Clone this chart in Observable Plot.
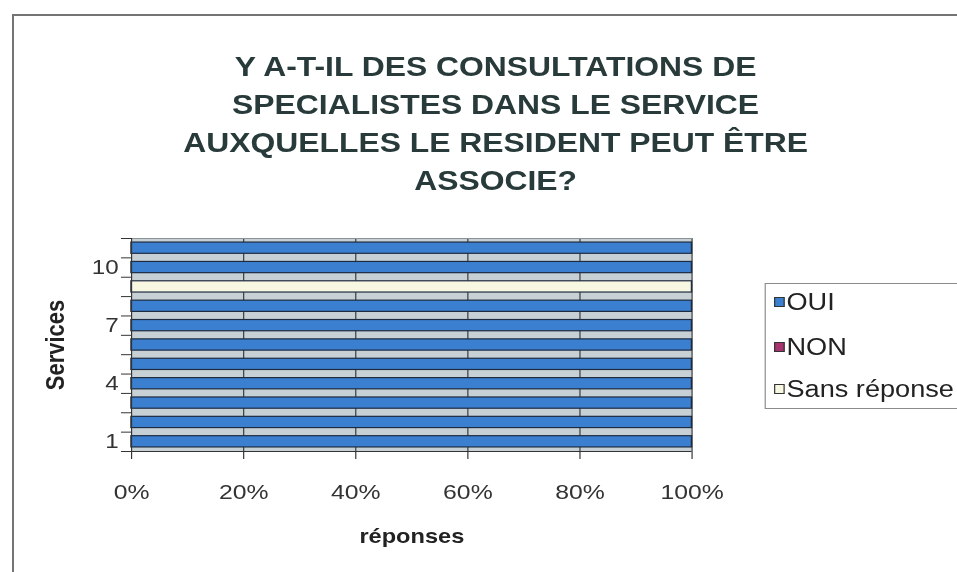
<!DOCTYPE html>
<html><head><meta charset="utf-8">
<script src="https://cdn.jsdelivr.net/npm/d3@7"></script>
<script src="https://cdn.jsdelivr.net/npm/@observablehq/plot@0.6"></script>
<style>
  html, body { margin:0; padding:0; background:#fff; }
  body { width:957px; height:572px; overflow:hidden; position:relative; font-family:"Liberation Sans", Arial, sans-serif; }
  #border { position:absolute; left:12px; top:14px; width:1000px; height:700px; border:2px solid #747474; box-sizing:border-box; }
  #wrap { position:absolute; left:0; top:0; width:811px; height:572px; transform:scaleX(1.18); transform-origin:0 0; }
  #title { position:absolute; left:0; top:48px; width:840px; text-align:center; font-weight:bold; font-size:27px; line-height:38px; color:#283a3a; }
  #chart { position:absolute; left:0; top:200px; }
  #legend { position:absolute; left:647.5px; top:283px; width:320px; height:126px; border:1px solid #8c8c8c; box-sizing:border-box; }
  .item { position:absolute; left:7px; height:26px; display:flex; align-items:center; font-size:23px; color:#222; white-space:nowrap; }
  .sw { width:9px; height:10px; border:1px solid #333; margin-right:2px; box-sizing:border-box; }
</style></head>
<body>
<div id="border"></div>
<div id="wrap">
  <div id="title">Y A-T-IL DES CONSULTATIONS DE<br>SPECIALISTES DANS LE SERVICE<br>AUXQUELLES LE RESIDENT PEUT ÊTRE<br>ASSOCIE?</div>
  <div id="chart"></div>
  <div id="legend"></div>
</div>
<script>
const services = [1, 2, 3, 4, 5, 6, 7, 8, 9, 10, 11];
const responses = ["OUI", "NON", "Sans réponse"];
const oui = [100, 100, 100, 100, 100, 100, 100, 100, 0, 100, 100];
const non = [0, 0, 0, 0, 0, 0, 0, 0, 0, 0, 0];
const sansReponse = [0, 0, 0, 0, 0, 0, 0, 0, 100, 0, 0];
const colors = ["#3b80d0", "#a5336e", "#f7f7e2"];
const xTicks = [0, 0.2, 0.4, 0.6, 0.8, 1];
const yTickLabels = [1, 4, 7, 10];
const xTitle = "réponses";
const yTitle = "Services";

const series = [oui, non, sansReponse];
const table = [];
services.forEach((s, i) => {
  responses.forEach((r, j) => table.push({service: s, response: r, value: series[j][i]}));
});

const half = 0.29;
const font = "Liberation Sans, Arial, sans-serif";

const chart = Plot.plot({
  width: 811,
  height: 372,
  marginTop: 38,
  marginBottom: 121,
  marginLeft: 111,
  marginRight: 225,
  style: {fontFamily: font, color: "#333", background: "transparent"},
  x: {domain: [0, 1], label: null, axis: null},
  y: {domain: [0.5, 11.5], label: null, axis: null},
  color: {domain: responses, range: colors},
  marks: [
    Plot.frame({fill: "#c6d0d5", stroke: null}),
    Plot.ruleX(xTicks.slice(1), {stroke: "#3a3a3a", strokeWidth: 1}),
    Plot.ruleY([11.5], {stroke: "#8a9296", strokeWidth: 1}),
    Plot.rectX(table, Plot.stackX({
      filter: d => d.value > 0,
      y: "service",
      y1: d => d.service - half,
      y2: d => d.service + half,
      x: "value",
      fill: "response",
      offset: "normalize",
      stroke: "#1d2b40",
      strokeWidth: 1.2
    })),
    Plot.ruleX([0], {stroke: "#333", strokeWidth: 1}),
    Plot.ruleY([0.5], {stroke: "#333", strokeWidth: 1}),
    Plot.axisX(xTicks, {tickFormat: d3.format(".0%"), tickSize: 8, tickPadding: 25, fontSize: 21, label: null, stroke: "#333", fill: "#333"}),
    Plot.axisY(yTickLabels, {tickSize: 0, tickPadding: 11, fontSize: 20.5, label: null, fill: "#333"}),
    Plot.axisY(d3.range(0.5, 12, 1), {tickSize: 8.5, tickFormat: () => "", label: null, stroke: "#333"}),
    Plot.text([xTitle], {text: d => d, frameAnchor: "bottom", lineAnchor: "middle", dy: 85, fontWeight: "bold", fontSize: 20, fill: "#222", letterSpacing: 0.6}),
    Plot.text([yTitle], {text: d => d, frameAnchor: "left", textAnchor: "middle", lineAnchor: "middle", dx: -64, rotate: -90, fontWeight: "bold", fontSize: 22, fill: "#222", letterSpacing: 0.8})
  ]
});
document.getElementById("chart").appendChild(chart);

// legend
const legend = document.getElementById("legend");
const centers = [18, 63, 105];
responses.forEach((r, i) => {
  const item = document.createElement("div");
  item.className = "item";
  item.style.top = (centers[i] - 13) + "px";
  const sw = document.createElement("div");
  sw.className = "sw";
  sw.style.background = colors[i];
  const t = document.createElement("span");
  t.textContent = r;
  item.appendChild(sw);
  item.appendChild(t);
  legend.appendChild(item);
});
</script>
</body></html>
